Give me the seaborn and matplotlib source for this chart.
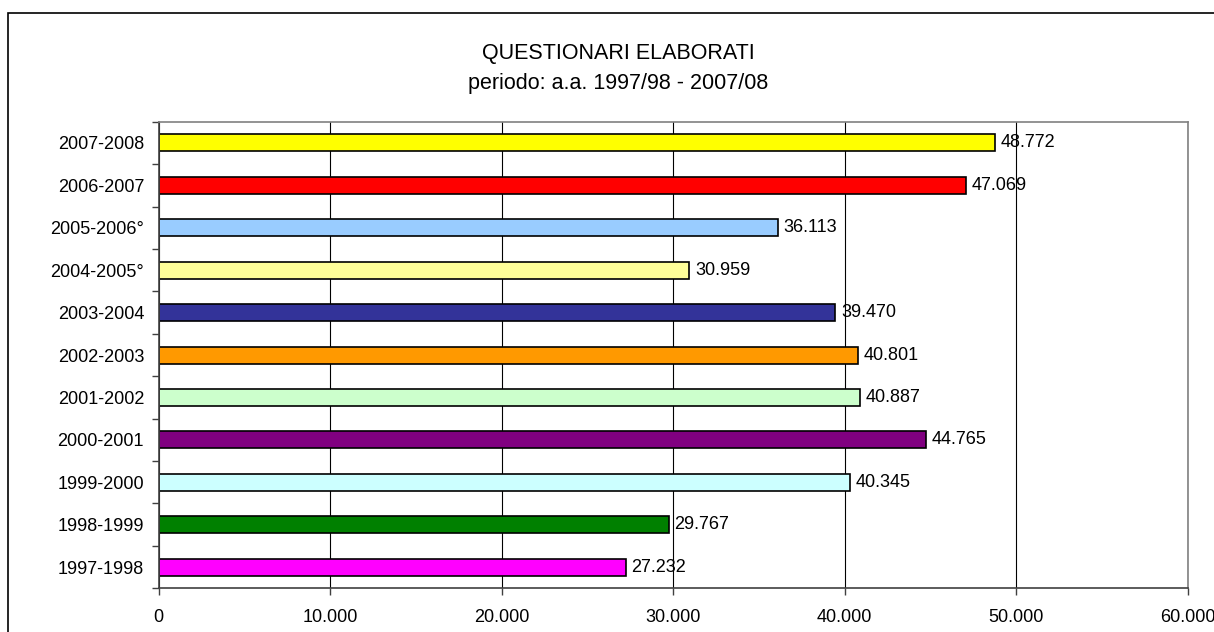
import matplotlib
matplotlib.use("Agg")
import matplotlib.pyplot as plt
import seaborn as sns
import pandas as pd
import numpy as np
from matplotlib.patches import Rectangle

# data (top to bottom)
years = ["2007-2008", "2006-2007", "2005-2006°", "2004-2005°", "2003-2004",
         "2002-2003", "2001-2002", "2000-2001", "1999-2000", "1998-1999",
         "1997-1998"]
questionari = [48772, 47069, 36113, 30959, 39470, 40801, 40887, 44765,
               40345, 29767, 27232]
bar_colors = ["#FFFF00", "#FF0000", "#99CCFF", "#FFFF99", "#333399",
              "#FF9900", "#CCFFCC", "#800080", "#CCFFFF", "#008000",
              "#FF00FF"]
x_ticks = [0, 10000, 20000, 30000, 40000, 50000, 60000]


def it_fmt(v):
    # italian thousands separator
    return f"{v:,.0f}".replace(",", ".")


sns.set_style("white")
plt.rcParams["font.family"] = ["Liberation Sans", "DejaVu Sans"]
plt.rcParams["text.color"] = "black"

df = pd.DataFrame({"anno": years, "questionari": questionari})

fig = plt.figure(figsize=(12.14, 6.32), dpi=100)
ax = fig.add_axes([0.1306, 0.0691, 0.8476, 0.7383])

sns.barplot(data=df, x="questionari", y="anno", hue="anno", palette=bar_colors,
            legend=False, width=0.4, saturation=1, edgecolor="black",
            linewidth=1.2, orient="h", ax=ax)

for cont in ax.containers:
    ax.bar_label(cont, labels=[it_fmt(v) for v in cont.datavalues],
                 padding=4, fontsize=13, color="black")

ax.set_xlim(0, 60000)
ax.set_ylim(len(years) - 0.5, -0.5)
ax.set_xticks(x_ticks)
ax.set_xticklabels([it_fmt(v) for v in x_ticks])
ax.set_yticks(np.arange(-0.5, len(years), 1), minor=True)
ax.set_xlabel("")
ax.set_ylabel("")

ax.xaxis.grid(True, color="black", linewidth=0.8)
ax.set_axisbelow(True)

for side in ["top", "right"]:
    ax.spines[side].set_color("#808080")
    ax.spines[side].set_linewidth(1.2)
for side in ["left", "bottom"]:
    ax.spines[side].set_color("#404040")
    ax.spines[side].set_linewidth(1.2)

ax.tick_params(axis="x", bottom=True, length=5, width=1, color="#404040",
               pad=10, labelsize=13, labelcolor="black")
# category labels sit between the tick marks, so hide the major ticks
ax.tick_params(axis="y", which="major", left=True, length=0, width=0,
               pad=10.4, labelsize=13, labelcolor="black")
ax.tick_params(axis="y", which="minor", left=True, length=5, width=1,
               color="#404040")

fig.text(0.509, 1 - 59 / 632, "QUESTIONARI ELABORATI", ha="center",
         va="baseline", fontsize=15.5, color="black")
fig.text(0.509, 1 - 89.3 / 632, "periodo: a.a. 1997/98 - 2007/08",
         ha="center", va="baseline", fontsize=15.5, color="black")

# chart frame (runs off the right and bottom edges in the reference)
fig.patches.append(Rectangle((7.5 / 1214, -0.1), 2, (632 - 12.5) / 632 + 0.1,
                             transform=fig.transFigure, fill=False,
                             edgecolor="black", linewidth=1.2))

fig.savefig("out.png", dpi=100)
